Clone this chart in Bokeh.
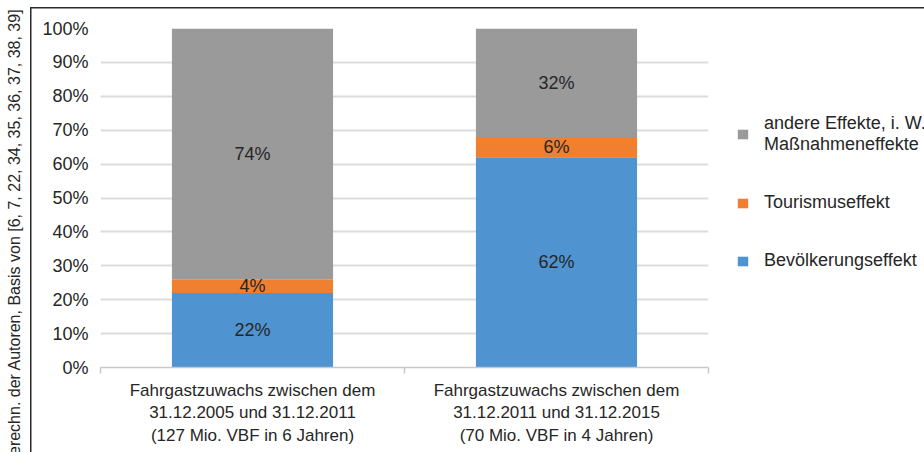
from math import pi
from bokeh.plotting import figure
from bokeh.models import (Range1d, FixedTicker, Legend, LegendItem, Label,
                          ColumnDataSource)
from bokeh.embed import file_html
from bokeh.resources import INLINE
from bokeh.core.properties import value

# ---- data ----
categories = [
    "Fahrgastzuwachs zwischen dem\n31.12.2005 und 31.12.2011\n(127 Mio. VBF in 6 Jahren)",
    "Fahrgastzuwachs zwischen dem\n31.12.2011 und 31.12.2015\n(70 Mio. VBF in 4 Jahren)",
]
bevoelkerung = [22, 62]
tourismus = [4, 6]
andere = [74, 32]
series_keys = ["bev", "tour", "andere"]
series_names = ["Bevölkerungseffekt", "Tourismuseffekt",
                "andere Effekte, i. W.\nMaßnahmeneffekte"]
colors = ["#4f93d0", "#f08030", "#9a9a9a"]
y_ticks = [0, 10, 20, 30, 40, 50, 60, 70, 80, 90, 100]
source_note = "Berechn. der Autoren, Basis von [6, 7, 22, 34, 35, 36, 37, 38, 39]"

FONT = "Liberation Sans"
TXT = "#262626"

xs = [i + 0.5 for i in range(len(categories))]
src = ColumnDataSource(dict(x=xs, bev=bevoelkerung, tour=tourismus, andere=andere))

p = figure(output_backend="svg", toolbar_location=None,
           frame_width=608, frame_height=339,
           min_border_left=100, min_border_right=216,
           min_border_top=28, min_border_bottom=85,
           x_range=Range1d(0, len(categories)), y_range=Range1d(0, 100),
           background_fill_color="white", border_fill_alpha=0)
p.outline_line_color = None
# outer frame lines (top and left) drawn as CSS background of the plot element
p.styles = {
    "background-color": "white",
    "background-image": "linear-gradient(#2a2a2a, #2a2a2a), linear-gradient(#2a2a2a, #2a2a2a)",
    "background-size": "1.5px 460px, 920px 1.5px",
    "background-position": "29.5px 6.5px, 29.5px 6.5px",
    "background-repeat": "no-repeat",
}

renderers = p.vbar_stack(series_keys, x="x", width=0.53, color=colors,
                         line_color=None, source=src)

# segment labels
lx, ly, lt = [], [], []
for i, x in enumerate(xs):
    base = 0
    for vals in (bevoelkerung, tourismus, andere):
        v = vals[i]
        lx.append(x)
        ly.append(base + v / 2)
        lt.append(f"{v}%")
        base += v
p.text(x=lx, y=ly, text=lt, text_align="center", text_baseline="middle",
       text_font=value(FONT), text_font_size="18px", text_color=TXT)

# y axis
p.yaxis.ticker = FixedTicker(ticks=y_ticks)
p.yaxis.major_label_overrides = {t: f"{t}%" for t in y_ticks}
p.yaxis.axis_line_color = None
p.yaxis.major_tick_line_color = None
p.yaxis.minor_tick_line_color = None
p.yaxis.major_tick_out = 0
p.yaxis.major_tick_in = 0
p.yaxis.major_label_standoff = 12
p.yaxis.major_label_text_font = FONT
p.yaxis.major_label_text_font_size = "18px"
p.yaxis.major_label_text_color = TXT

# x axis
p.xaxis.ticker = FixedTicker(ticks=xs, minor_ticks=[0, 1, 2])
p.xaxis.major_label_overrides = {x: c for x, c in zip(xs, categories)}
p.xaxis.axis_line_color = "#c8c8c8"
p.xaxis.axis_line_width = 1.5
p.xaxis.major_tick_line_color = None
p.xaxis.major_tick_out = 0
p.xaxis.major_tick_in = 0
p.xaxis.minor_tick_line_color = "#c8c8c8"
p.xaxis.minor_tick_line_width = 1.5
p.xaxis.minor_tick_out = 6
p.xaxis.minor_tick_in = 0
p.xaxis.major_label_standoff = 7
p.xaxis.major_label_text_font = FONT
p.xaxis.major_label_text_font_size = "17px"
p.xaxis.major_label_text_color = TXT
p.xaxis.major_label_text_line_height = 1.2

p.xgrid.grid_line_color = None
p.ygrid.grid_line_color = "#dcdcdc"
p.ygrid.grid_line_width = 2

# legend
items = [LegendItem(label=series_names[k], renderers=[renderers[k]]) for k in (2, 1, 0)]
legend = Legend(items=items, location=(28, 96), spacing=37, glyph_width=13,
                glyph_height=12, label_standoff=15, padding=0, margin=0,
                border_line_color=None, background_fill_alpha=0,
                label_text_font=FONT, label_text_font_size="18px",
                label_text_color=TXT, label_text_line_height=1.22)
p.add_layout(legend, "right")

# rotated source note on the far left (side panel, not clipped to the frame)
p.add_layout(Label(x=-8, y=359, x_units="screen", y_units="screen", text=source_note,
                   angle=pi / 2, text_align="right", text_baseline="middle",
                   text_font=FONT, text_font_size="16px", text_color=TXT), "left")

open("out.html", "w").write(file_html(p, INLINE))
